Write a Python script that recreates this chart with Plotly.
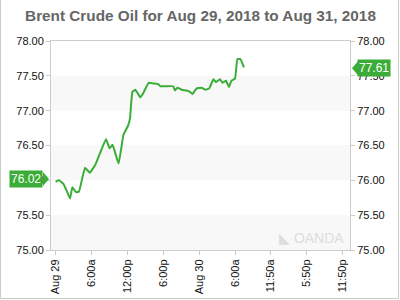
import plotly.graph_objects as go

# Hours since Aug 29, 2018 00:00
hours = [0.1, 0.67, 1.4, 1.9, 2.5, 2.9, 3.5, 4.0, 5.0, 5.8, 6.7, 7.5, 8.5, 9.1, 9.6,
         10.6, 11.4, 12.2, 12.5, 12.9, 13.4, 14.2, 14.7, 15.6, 16.4, 17.2, 17.6, 19.7,
         20.0, 20.4, 21.1, 21.9, 22.5, 22.9, 23.6, 24.4, 25.1, 25.7, 26.4, 26.8, 27.5,
         27.9, 28.5, 29.0, 29.4, 30.0, 30.4, 30.9, 31.5]
prices = [75.98, 76.00, 75.95, 75.86, 75.74, 75.90, 75.83, 75.84, 76.18, 76.11, 76.22,
          76.39, 76.59, 76.46, 76.51, 76.24, 76.65, 76.79, 76.89, 77.27, 77.30, 77.19,
          77.25, 77.40, 77.39, 77.38, 77.35, 77.35, 77.29, 77.33, 77.30, 77.29, 77.27,
          77.24, 77.32, 77.33, 77.30, 77.32, 77.45, 77.41, 77.45, 77.40, 77.43, 77.34,
          77.43, 77.46, 77.74, 77.74, 77.62]

tick_hours = [0, 6, 12, 18, 24, 30, 35.833, 41.833, 47.833]
tick_labels = ["Aug 29", "6:00a", "12:00p", "6:00p", "Aug 30", "6:00a", "11:50a", "5:50p", "11:50p"]
y_ticks = [75.0, 75.5, 76.0, 76.5, 77.0, 77.5, 78.0]
y_labels = ["75.00", "75.50", "76.00", "76.50", "77.00", "77.50", "78.00"]
bands = [(75.0, 75.5), (76.0, 76.5), (77.0, 77.5)]
open_price = 76.02
last_price = 77.61

GREEN = "#3aac37"
FONT = "Liberation Sans, Arial, sans-serif"
W, H = 400, 300
ML, MR, MT, MB = 51, 50, 41, 50
PW, PH = W - ML - MR, H - MT - MB

def px(x):
    return (x - ML) / PW

def py(y):
    return 1 - (y - MT) / PH

fig = go.Figure()
fig.add_trace(go.Scatter(x=hours, y=prices, mode="lines",
                         line=dict(color=GREEN, width=2, shape="spline", smoothing=0.3),
                         hoverinfo="skip", showlegend=False))
fig.add_trace(go.Scatter(x=[hours[0]], y=[prices[0]], yaxis="y2", mode="markers",
                         marker=dict(opacity=0), showlegend=False, hoverinfo="skip"))

shapes = []
for lo, hi in bands:
    shapes.append(dict(type="rect", xref="paper", yref="y", x0=0, x1=1, y0=lo, y1=hi,
                       fillcolor="#f8f8f8", line=dict(width=0), layer="below"))
# outer border (left, right, bottom)
for (x0, y0, x1, y1) in [(0.5, 0, 0.5, 298.5), (398.5, 0, 398.5, 298.5), (0.5, 298.5, 398.5, 298.5)]:
    shapes.append(dict(type="line", xref="paper", yref="paper", x0=px(x0), x1=px(x1),
                       y0=py(y0), y1=py(y1), line=dict(color="#cccccc", width=1)))

# price label arrows
yo = py(MT + (78 - open_price) / 3 * PH)
yl = py(MT + (78 - last_price) / 3 * PH)
ah = 7 / PH
shapes.append(dict(type="path", xref="paper", yref="paper",
                   path=f"M {px(43)} {yo + ah} L {px(49)} {yo} L {px(43)} {yo - ah} Z",
                   fillcolor=GREEN, line=dict(width=0)))
shapes.append(dict(type="path", xref="paper", yref="paper",
                   path=f"M {px(358)} {yl + ah} L {px(352)} {yl} L {px(358)} {yl - ah} Z",
                   fillcolor=GREEN, line=dict(width=0)))

annotations = [
    dict(text=f"{open_price:.2f}", xref="paper", yref="y", x=px(43), y=open_price,
         xanchor="right", yanchor="middle", showarrow=False, bgcolor=GREEN,
         font=dict(color="white", size=12, family=FONT), borderpad=1),
    dict(text=f"{last_price:.2f}", xref="paper", yref="y", x=px(357), y=last_price,
         xanchor="left", yanchor="middle", showarrow=False, bgcolor=GREEN,
         font=dict(color="white", size=12, family=FONT), borderpad=1),
    dict(text="◣ OANDA", xref="paper", yref="paper", x=px(346), y=py(238),
         xanchor="right", yanchor="middle", showarrow=False,
         font=dict(color="#dddddd", size=14, family=FONT)),
]

axis_common = dict(range=[75, 78], tickvals=y_ticks, ticktext=y_labels, automargin=False,
                   showgrid=False, zeroline=False, ticks="outside", ticklen=4,
                   tickcolor="#cccccc", tickfont=dict(size=11, color="#111111", family=FONT))

fig.update_layout(
    width=W, height=H,
    margin=dict(l=ML, r=MR, t=MT, b=MB, autoexpand=False),
    paper_bgcolor="white", plot_bgcolor="white",
    title=dict(text="<b>Brent Crude Oil for Aug 29, 2018 to Aug 31, 2018</b>",
               x=0.5, xref="paper", xanchor="center", y=1 - 16 / H, yanchor="middle",
               font=dict(size=15.3, color="#666666", family=FONT)),
    xaxis=dict(range=[-0.667, 49.167], tickvals=tick_hours, ticktext=tick_labels,
               tickangle=-90, showgrid=False, zeroline=False, showline=True, automargin=False,
               linecolor="#cccccc", mirror=True, ticks="outside", ticklen=4,
               tickcolor="#cccccc", tickfont=dict(size=11, color="#111111", family=FONT)),
    yaxis=dict(side="left", showline=True, linecolor="#cccccc", **axis_common),
    yaxis2=dict(side="right", overlaying="y", showline=True, linecolor="#cccccc", **axis_common),
    shapes=shapes, annotations=annotations, showlegend=False,
)

fig.write_html("out.html")
